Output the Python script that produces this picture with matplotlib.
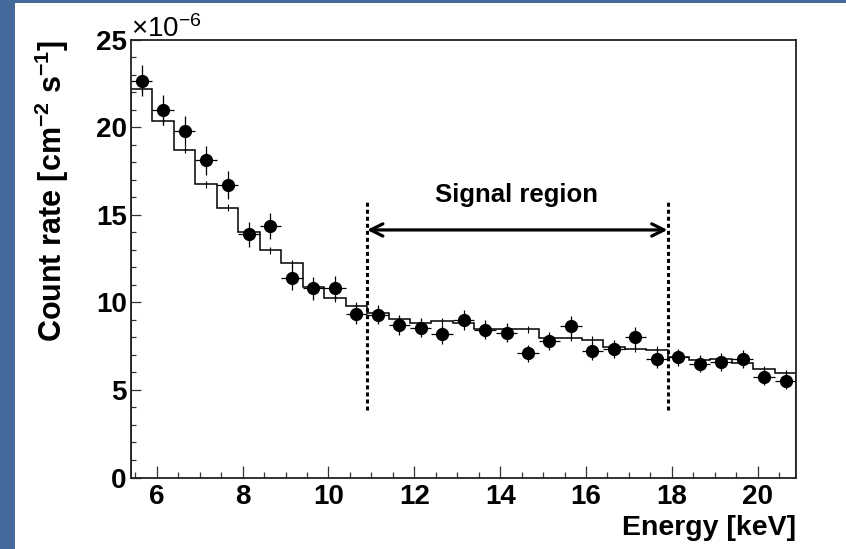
import matplotlib
matplotlib.use("Agg")
import matplotlib.pyplot as plt
from matplotlib.patches import Rectangle
from matplotlib.ticker import MultipleLocator, FixedLocator
import numpy as np

# ---- data (units of 1e-6 cm^-2 s^-1) ----
bin_lo = 5.4
bin_width = 0.5
n_bins = 31
data_rate = [22.65, 20.98, 19.78, 18.10, 16.71, 13.88, 14.35, 11.41, 10.80, 10.83,
             9.34, 9.30, 8.70, 8.55, 8.17, 8.99, 8.44, 8.27, 7.09, 7.79,
             8.63, 7.20, 7.33, 8.00, 6.76, 6.86, 6.50, 6.59, 6.75, 5.74, 5.53]
data_err = [0.88, 0.88, 0.87, 0.84, 0.81, 0.73, 0.73, 0.72, 0.67, 0.68,
            0.59, 0.55, 0.55, 0.55, 0.53, 0.58, 0.54, 0.54, 0.50, 0.52,
            0.58, 0.52, 0.52, 0.60, 0.50, 0.50, 0.48, 0.49, 0.50, 0.48, 0.47]
model_rate = [22.16, 20.33, 18.71, 16.73, 15.40, 14.01, 12.98, 12.22, 10.89, 10.23,
              9.79, 9.37, 9.03, 8.80, 8.92, 8.80, 8.48, 8.46, 8.46, 7.98,
              7.98, 7.85, 7.47, 7.35, 7.28, 6.90, 6.71, 6.76, 6.52, 6.18, 5.96]
model_err = 0.2
signal_lo, signal_hi = 10.9, 17.9
x_ticks = [6, 8, 10, 12, 14, 16, 18, 20]
y_ticks = [0, 5, 10, 15, 20, 25]

edges = bin_lo + bin_width * np.arange(n_bins + 1)
centers = 0.5 * (edges[:-1] + edges[1:])

FONT = ['Liberation Sans', 'Arial', 'DejaVu Sans']
plt.rcParams['font.family'] = FONT
plt.rcParams['font.weight'] = 'bold'
plt.rcParams['mathtext.fontset'] = 'custom'
plt.rcParams['mathtext.rm'] = 'Liberation Sans:bold'
plt.rcParams['mathtext.default'] = 'rm'

W, H = 846, 549
fig = plt.figure(figsize=(W / 100, H / 100), dpi=100, facecolor='#44699b')
fig.patches.append(Rectangle((15 / W, 0), 1, 1 - 3 / H, transform=fig.transFigure,
                             facecolor='white', edgecolor='none', zorder=-10))

ax = fig.add_axes([131 / W, 1 - 477.5 / H, (796.3 - 131) / W, (477.5 - 39.5) / H])
ax.set_facecolor('white')
ax.set_zorder(1)

# model histogram
ax.stairs(model_rate, edges, color='black', lw=1.1, zorder=2)
ax.errorbar(centers, model_rate, yerr=model_err, fmt='none', ecolor='black',
            elinewidth=0.8, capsize=0, zorder=2)

# data points
ax.errorbar(centers, data_rate, yerr=data_err, xerr=bin_width / 2, fmt='o',
            color='black', ms=8.5, elinewidth=0.9, ecolor='black', capsize=0, zorder=3)

# signal region
for xv in (signal_lo, signal_hi):
    ax.plot([xv, xv], [3.85, 15.8], color='black', lw=2.2,
            linestyle=(0, (1.3, 1.0)), zorder=4)
ax.annotate('', xy=(signal_hi, 14.13), xytext=(signal_lo, 14.13),
            arrowprops=dict(arrowstyle='<->', lw=2.3, color='black',
                            mutation_scale=22, shrinkA=0, shrinkB=0), zorder=5)
ax.text(14.39, 16.1, 'Signal region', ha='center', va='center',
        fontsize=18.5, fontweight='bold')

ax.set_xlim(edges[0], edges[-1])
ax.set_ylim(0, 25)
ax.xaxis.set_major_locator(FixedLocator(x_ticks))
ax.xaxis.set_minor_locator(MultipleLocator(0.5))
ax.yaxis.set_major_locator(FixedLocator(y_ticks))
ax.yaxis.set_minor_locator(MultipleLocator(1))
ax.set_xticklabels([str(t) for t in x_ticks])
ax.set_yticklabels([str(t) for t in y_ticks])
ax.tick_params(axis='x', which='major', direction='in', length=8.6, width=0.9,
               color='#333333', labelsize=20, pad=5, top=False)
ax.tick_params(axis='x', which='minor', direction='in', length=4.3, width=0.9,
               color='#333333', top=False)
ax.tick_params(axis='y', which='major', direction='in', length=7.2, width=0.9,
               color='#333333', labelsize=20, pad=3, right=False)
ax.tick_params(axis='y', which='minor', direction='in', length=3.6, width=0.9,
               color='#333333', right=False)
for lab in ax.get_xticklabels() + ax.get_yticklabels():
    lab.set_fontweight('bold')
for sp in ax.spines.values():
    sp.set_linewidth(1.3)
    sp.set_color('#222222')

# axis titles
fig.text(796 / W, 1 - 535 / H, 'Energy [keV]', ha='right', va='baseline',
         fontsize=20.5, fontweight='bold')
fig.text(52 / W, 1 - 40 / H, 'Count rate [cm$^{-2}$ s$^{-1}$]', rotation=90,
         ha='center', va='top', fontsize=22, fontweight='bold')
fig.text(131 / W, 1 - 37 / H, '\u00d710$^{\\mathregular{-6}}$', ha='left', va='baseline',
         fontsize=20, fontweight='normal')

fig.savefig('out.png', dpi=100, facecolor=fig.get_facecolor())
